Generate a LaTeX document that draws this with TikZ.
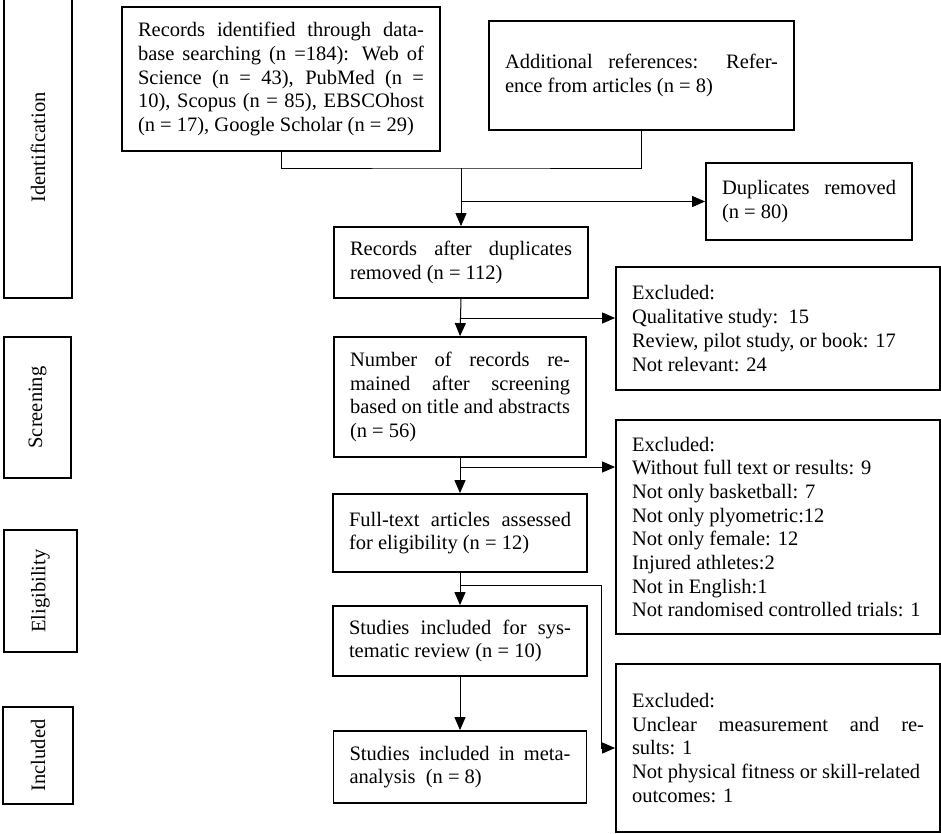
\documentclass[tikz,border=0pt]{standalone}
\usepackage{fontspec}
\setmainfont{Liberation Serif}
\usetikzlibrary{arrows.meta}

\tikzset{
	mainbox/.style={draw, line width=1.8pt, inner xsep=16pt, inner ysep=4pt, align=justify,
		font=\fontsize{20.5}{23.7}\selectfont},
	stagebox/.style={draw, line width=1.8pt, rotate=90, inner sep=0pt,
		font=\fontsize{20.5}{23.7}\selectfont},
	flow/.style={line width=1pt, -{Triangle[length=13pt, width=11pt]}}
}

\begin{document}
\begin{tikzpicture}[x=1pt, y=-1pt]
			\useasboundingbox (0,0) rectangle (941,833);

			\node [stagebox, minimum width=301pt, minimum height=68pt] (ident) at (38,147.5) {Identification};
			\node [stagebox, minimum width=141pt, minimum height=67pt] (screen) at (37.5,407.5) {Screening};
			\node [stagebox, minimum width=122pt, minimum height=73pt] (elig) at (40.5,591) {Eligibility};
			\node [stagebox, minimum width=97pt, minimum height=70pt] (incl) at (38,755.5) {Included};

			\node [mainbox, text width=286pt, minimum width=318pt, minimum height=144pt] (rec) at (281,79)
				{Records identified through data-\linebreak base searching (n =184): Web of\linebreak Science (n = 43), PubMed (n =\linebreak 10), Scopus (n = 85), EBSCOhost\linebreak (n = 17), Google Scholar (n = 29)};
			\node [mainbox, text width=273pt, minimum width=305pt, minimum height=109pt] (addl) at (641.5,75.5)
				{Additional references: Refer-\linebreak ence from articles (n = 8)};
			\node [mainbox, text width=174pt, minimum width=206pt, minimum height=77pt] (dup) at (809,201.5)
				{Duplicates removed\linebreak (n = 80)};
			\node [mainbox, text width=222pt, minimum width=254pt, minimum height=71pt] (after) at (461,262.5)
				{Records after duplicates\linebreak removed (n = 112)};
			\node [mainbox, text width=220pt, minimum width=252pt, minimum height=120pt] (screened) at (460,397)
				{Number of records re-\linebreak mained after screening\linebreak based on title and abstracts\linebreak (n = 56)};
			\node [mainbox, text width=222pt, minimum width=254pt, minimum height=78pt] (fulltext) at (460,533)
				{Full-text articles assessed\linebreak for eligibility (n = 12)};
			\node [mainbox, text width=222pt, minimum width=254pt, minimum height=70pt] (sysrev) at (460,641)
				{Studies included for sys-\linebreak tematic review (n = 10)};
			\node [mainbox, text width=221pt, minimum width=253pt, minimum height=72pt] (meta) at (460,767)
				{Studies included in meta-\linebreak analysis\ \ (n = 8)};

			\node [mainbox, text width=292pt, minimum width=324pt, minimum height=123pt] (exclA) at (778,328.5)
				{Excluded:\\ Qualitative study:\ \ 15\\ Review, pilot study, or book: 17\\ Not relevant: 24};
			\node [mainbox, text width=292pt, minimum width=324pt, minimum height=214pt] (exclB) at (778,527)
				{Excluded:\\ Without full text or results: 9\\ Not only basketball: 7\\ Not only plyometric:12\\ Not only female: 12\\ Injured athletes:2\\ Not in English:1\\ Not randomised controlled trials: 1};
			\node [mainbox, text width=292pt, minimum width=324pt, minimum height=168pt] (exclC) at (778,748)
				{Excluded:\\ Unclear measurement and re-\linebreak sults: 1\\ Not physical fitness or skill-related\\ outcomes: 1};

			\coordinate (join) at (461,168);
			\coordinate (splitA) at (461,318);
			\coordinate (splitB) at (460,467);
			\coordinate (splitC) at (460,585);

			\draw [line width=1pt] (rec.south) |- (join) -| (addl.south);
			\draw [flow] (join) -- (after.north);
			\draw [flow] (after.north |- dup.west) -- (dup.west);
			\draw [flow] (after.south) -- (screened.north);
			\draw [flow] (splitA) -- (splitA -| exclA.west);
			\draw [flow] (screened.south) -- (fulltext.north);
			\draw [flow] (splitB) -- (splitB -| exclB.west);
			\draw [flow] (fulltext.south) -- (sysrev.north);
			\draw [flow] (splitC) -| ([xshift=-14pt]exclC.west) -- (exclC.west);
			\draw [flow] (sysrev.south) -- (meta.north);
		\end{tikzpicture}
\end{document}
